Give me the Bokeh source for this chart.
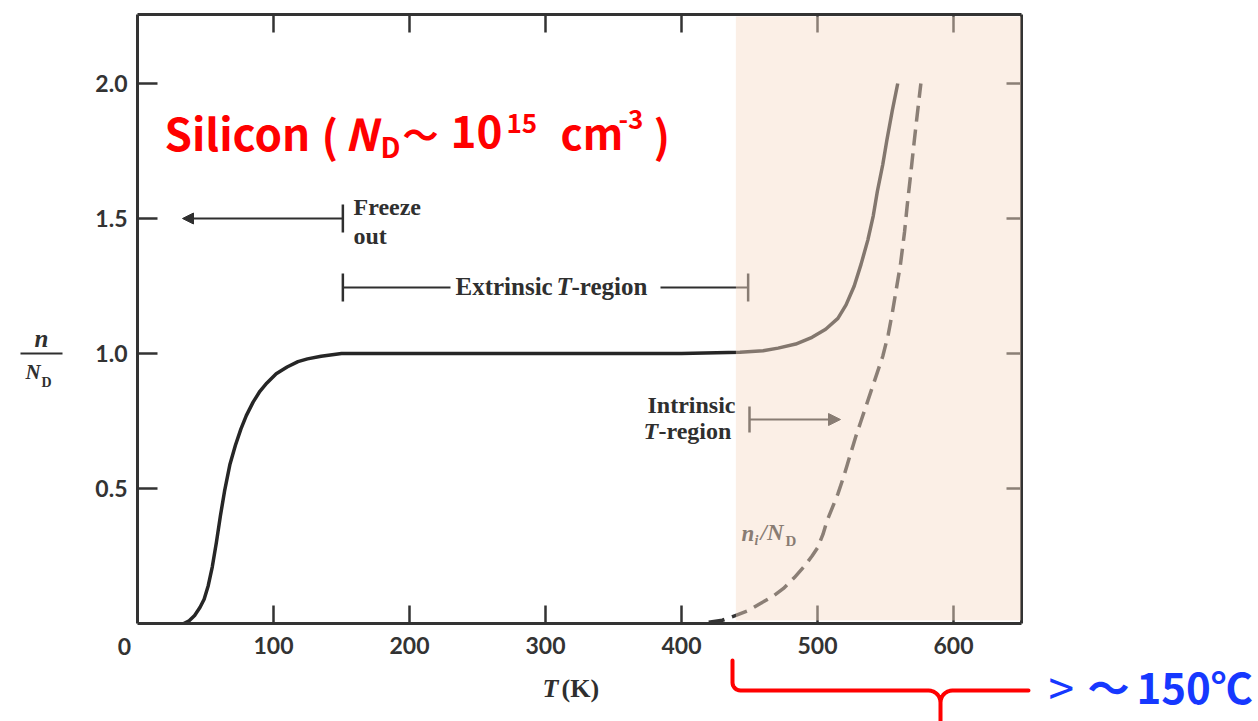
import numpy as np
from bokeh.plotting import figure
from bokeh.models import (Range1d, LinearAxis, FixedTicker, Label, Arrow, TeeHead,
                          NormalHead, BoxAnnotation, PolyAnnotation)
from bokeh.embed import file_html
from bokeh.resources import INLINE

# ---------------- data ----------------
T_n = [34, 38, 42, 46, 49, 52, 55, 58, 61, 64, 68, 72, 76, 80, 85, 90, 95, 102, 110,
       118, 125, 135, 150, 200, 300, 400, 443, 460, 471, 484, 496, 506, 515, 521, 527,
       532, 537, 541, 544, 548, 551, 555, 559]
n_over_ND = [0.0, 0.01, 0.03, 0.06, 0.09, 0.14, 0.21, 0.30, 0.40, 0.49, 0.59, 0.66,
             0.72, 0.77, 0.82, 0.86, 0.89, 0.925, 0.95, 0.97, 0.98, 0.99, 1.0, 1.0,
             1.0, 1.0, 1.005, 1.01, 1.02, 1.035, 1.06, 1.09, 1.13, 1.18, 1.25, 1.33,
             1.42, 1.51, 1.60, 1.70, 1.79, 1.90, 2.0]

T_ni = [420, 430, 440, 450, 458, 467, 475, 483, 490, 496, 500, 504, 507, 511, 515,
        519, 522, 525, 528, 532, 536, 540, 544, 548, 552, 555, 558, 561, 564, 566,
        568, 571, 573, 576]
ni_over_ND = [0.005, 0.012, 0.03, 0.05, 0.074, 0.10, 0.13, 0.17, 0.21, 0.25, 0.28,
              0.33, 0.38, 0.43, 0.48, 0.54, 0.59, 0.64, 0.69, 0.75, 0.81, 0.87, 0.93,
              0.99, 1.07, 1.15, 1.24, 1.33, 1.45, 1.55, 1.64, 1.78, 1.87, 2.0]

x_ticks = [100, 200, 300, 400, 500, 600]
x_tick_labels = ["100", "200", "300", "400", "500", "600"]
y_ticks = [0.5, 1.0, 1.5, 2.0]
y_tick_labels = ["0.5", "1.0", "1.5", "2.0"]

T_min, T_max = 0, 650          # plotted T range (K)
r_min, r_max = 0, 2.255        # plotted n/N_D range
intrinsic_start_T = 440        # start of shaded intrinsic region
freeze_out_T = 151
extrinsic_end_T = 449

# ---------------- page pixel <-> data helpers ----------------
W, H = 1258, 721

def TX(px):
    return (px - 137) / 1.36

def VY(py):
    return (623 - py) / 270

# the frame covers the whole canvas; the axes are placed at fixed locations
p = figure(frame_width=W, frame_height=H,
           min_border_left=0, min_border_right=0, min_border_top=0, min_border_bottom=0,
           x_range=Range1d(TX(0), TX(W)), y_range=Range1d(VY(H), VY(0)),
           x_axis_location=None, y_axis_location=None,
           output_backend="svg", toolbar_location=None)
p.outline_line_color = None
p.background_fill_color = "white"
p.border_fill_color = "white"
p.grid.visible = False

AX = "#333333"
TICK_FONT = "Lato"

def style_axis(ax, tick_in, show_labels=True):
    ax.axis_line_width = 3
    ax.axis_line_color = AX
    ax.major_tick_line_width = 2.5
    ax.major_tick_line_color = AX
    ax.major_tick_in = tick_in
    ax.major_tick_out = 0
    ax.minor_tick_in = 0
    ax.minor_tick_out = 0
    if show_labels:
        ax.major_label_text_font = TICK_FONT
        ax.major_label_text_font_style = "bold"
        ax.major_label_text_font_size = "23px"
        ax.major_label_text_color = "#333333"
    else:
        ax.major_label_text_font_size = "0px"
        ax.major_label_standoff = 0

xb = LinearAxis(ticker=FixedTicker(ticks=x_ticks), fixed_location=r_min,
                bounds=(T_min, T_max),
                major_label_overrides={t: s for t, s in zip(x_ticks, x_tick_labels)})
style_axis(xb, 18)
xb.major_label_standoff = 13
p.add_layout(xb, "below")

xt = LinearAxis(ticker=FixedTicker(ticks=x_ticks), fixed_location=r_max,
                bounds=(T_min, T_max),
                major_label_overrides={t: "" for t in x_ticks})
style_axis(xt, 18, show_labels=False)
p.add_layout(xt, "above")

yl = LinearAxis(ticker=FixedTicker(ticks=y_ticks), fixed_location=T_min,
                bounds=(r_min, r_max),
                major_label_overrides={t: s for t, s in zip(y_ticks, y_tick_labels)})
style_axis(yl, 20)
yl.major_label_standoff = 10
p.add_layout(yl, "left")

yr = LinearAxis(ticker=FixedTicker(ticks=y_ticks), fixed_location=T_max,
                bounds=(r_min, r_max),
                major_label_overrides={t: "" for t in y_ticks})
style_axis(yr, 15, show_labels=False)
p.add_layout(yr, "right")

# ---------------- curves ----------------
p.line(T_n, n_over_ND, line_color="#262626", line_width=3.5, line_join="round")
p.line(T_ni, ni_over_ND, line_color="#333333", line_width=3.5, line_dash="16 8")

INK = "#2f2f2f"
SERIF = "Liberation Serif"

def lab(text, px, py, size, font=SERIF, style="bold", color=INK, align="left"):
    # (px, py) = left (or aligned) edge and vertical centre of the text, in page pixels
    p.add_layout(Label(x=TX(px), y=VY(py), text=text, text_font=font,
                       text_font_size=f"{size}px", text_font_style=style,
                       text_color=color, text_align=align, text_baseline="middle"))

# ---------------- annotations inside plot ----------------
# Freeze out
p.add_layout(Arrow(x_start=freeze_out_T, y_start=1.5, x_end=TX(182), y_end=1.5,
                   start=TeeHead(size=28, line_width=2.5, line_color=INK),
                   end=NormalHead(size=11, line_width=1, line_color=INK, fill_color=INK),
                   line_width=2, line_color=INK))
lab("Freeze", 353, 206, 24)
lab("out", 353, 235, 24)

# Extrinsic T-region
yE = VY(287)
p.add_layout(Arrow(x_start=freeze_out_T, y_start=yE, x_end=TX(450), y_end=yE,
                   start=TeeHead(size=28, line_width=2.5, line_color=INK), end=None,
                   line_width=2, line_color=INK))
p.add_layout(Arrow(x_start=TX(660), y_start=yE, x_end=extrinsic_end_T, y_end=yE,
                   start=None, end=TeeHead(size=28, line_width=2.5, line_color=INK),
                   line_width=2, line_color=INK))
lab("Extrinsic", 455, 286, 25)
lab("T", 556, 286, 25, style="bold italic")
lab("-region", 571, 286, 25)

# Intrinsic T-region
yI = VY(419)
p.add_layout(Arrow(x_start=TX(749), y_start=yI, x_end=TX(840), y_end=yI,
                   start=TeeHead(size=26, line_width=2.5, line_color=INK),
                   end=NormalHead(size=12, line_width=1, line_color=INK, fill_color=INK),
                   line_width=2, line_color=INK))
lab("Intrinsic", 735, 404, 24, align="right")
lab("T", 643, 430, 24, style="bold italic")
lab("-region", 658, 430, 24)

# n_i / N_D
lab("n", 741, 533, 23, style="bold italic")
lab("i", 754, 540, 14, style="bold italic")
lab("/N", 760, 532, 23, style="bold italic")
lab("D", 785, 540, 15, style="bold")

# shaded intrinsic region (drawn on top, tinting what lies under it)
p.add_layout(BoxAnnotation(left=intrinsic_start_T, right=TX(1020.5), bottom=VY(620),
                           top=VY(16), fill_color="#F6DBC7", fill_alpha=0.45,
                           line_color=None, level="overlay"))

# ---------------- texts outside plot frame ----------------
lab("0", 124, 646, 23, font=TICK_FONT, color="#333333", align="center")

# x-axis label
lab("T", 542, 688, 26, style="bold italic")
lab("(K)", 561, 688, 26)

# y-axis label n / N_D
lab("n", 41, 338, 25, style="bold italic", align="center")
p.add_layout(Arrow(x_start=TX(20), y_start=VY(353), x_end=TX(62), y_end=VY(353),
                   start=None, end=None, line_width=2, line_color=INK))
lab("N", 25, 371, 21, style="bold italic")
lab("D", 41, 382, 14)

# red title
RED = "#FF0000"
CJK = "Noto Sans CJK JP"
lab("Silicon", 164, 131, 44, font=CJK, color=RED)
lab("(", 321, 133, 44, font=CJK, color=RED)
lab("N", 344, 131, 44, font=CJK, style="bold italic", color=RED)
lab("D", 380, 145, 28, font=CJK, color=RED)
lab("～", 402, 132, 36, font=CJK, color=RED)
lab("10", 450, 131, 44, font=CJK, color=RED)
lab("15", 506, 123, 26, font=CJK, color=RED)
lab("cm", 560, 131, 42, font=CJK, color=RED)
lab("-3", 618, 119, 26, font=CJK, color=RED)
lab(")", 653, 133, 44, font=CJK, color=RED)

# red bracket below the intrinsic region
def arc(cx, cy, r, a0, a1, n=8):
    a = np.radians(np.linspace(a0, a1, n))
    return list(zip(cx + r * np.cos(a), cy + r * np.sin(a)))

path = [(732, 660)]
path += arc(740, 682, 8, 180, 90)
path += arc(928, 702, 12, 270, 360)
path += [(940, 721)]
path += arc(952, 702, 12, 180, 270)
path += [(1028, 690)]
full = path + path[-2:0:-1]
p.add_layout(PolyAnnotation(xs=[TX(a) for a, b in full], ys=[VY(b) for a, b in full],
                            fill_alpha=0, line_alpha=1, line_color=RED, line_width=4,
                            line_join="round"))

# blue text
BLUE = "#1638FF"
lab(">", 1048, 685, 46, font=CJK, style="normal", color=BLUE)
lab("～", 1087, 685, 42, font=CJK, color=BLUE)
lab("150℃", 1136, 685, 42, font=CJK, color=BLUE)

open("out.html", "w").write(file_html(p, INLINE))
